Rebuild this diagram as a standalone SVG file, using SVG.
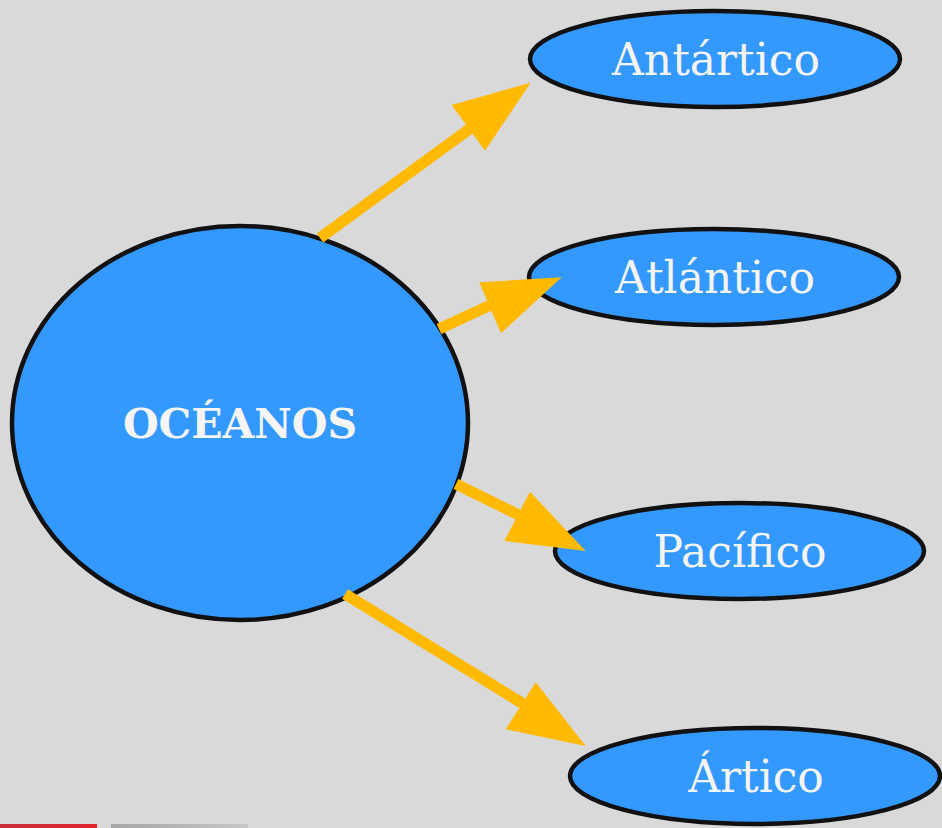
<svg xmlns="http://www.w3.org/2000/svg" width="942" height="828" viewBox="0 0 942 828">
<defs>
<linearGradient id="gr" x1="0" y1="0" x2="1" y2="0"><stop offset="0" stop-color="#a6a6a6"/><stop offset="1" stop-color="#c8c6c6"/></linearGradient>
<linearGradient id="rd" x1="0" y1="0" x2="1" y2="0"><stop offset="0" stop-color="#c9303a"/><stop offset="1" stop-color="#e2252e"/></linearGradient>
</defs>
<style>
.node{fill:#3399FF;stroke:#111;stroke-width:4.5}
.lbl{fill:#F5F5F5;font-family:"DejaVu Serif","Liberation Serif",serif;font-size:44px;text-anchor:middle;dominant-baseline:central}
.big{font-weight:bold;font-size:41px}
.arr line{stroke:#FFBA00;stroke-width:11}
.arr polygon{fill:#FFBA00}
</style>
<rect width="942" height="828" fill="#D9D9D9"/>
<rect x="0" y="824" width="97" height="4" fill="url(#rd)"/>
<rect x="111" y="824" width="137" height="4" fill="url(#gr)"/>
<g id="oceanos"><ellipse class="node" cx="240" cy="423" rx="228" ry="197"/><text class="lbl big" x="240" y="424">OCÉANOS</text></g>
<g id="antartico"><ellipse class="node" cx="715" cy="59" rx="185" ry="48"/><text class="lbl" x="716" y="59">Antártico</text></g>
<g id="atlantico"><ellipse class="node" cx="714" cy="277" rx="185" ry="48"/><text class="lbl" x="715" y="277">Atlántico</text></g>
<g id="pacifico"><ellipse class="node" cx="739.5" cy="551" rx="184.5" ry="48"/><text class="lbl" x="740" y="551">Pacífico</text></g>
<g id="artico"><ellipse class="node" cx="755" cy="776" rx="185" ry="48"/><text class="lbl" x="756" y="776">Ártico</text></g>
<g id="connectors" class="arr">
<line x1="320" y1="238" x2="475" y2="125"/>
<polygon points="530.7,82.7 451.7,105 485,150.7"/>
<line x1="439" y1="329" x2="495" y2="303"/>
<polygon points="561.7,277.3 479.3,282.3 501,333.3"/>
<line x1="456" y1="484" x2="525" y2="518"/>
<polygon points="585.7,551 530,491.7 504.3,541"/>
<line x1="345" y1="594" x2="530" y2="708"/>
<polygon points="585.7,746 535.7,682.3 505.7,729.3"/>
</g>
</svg>
